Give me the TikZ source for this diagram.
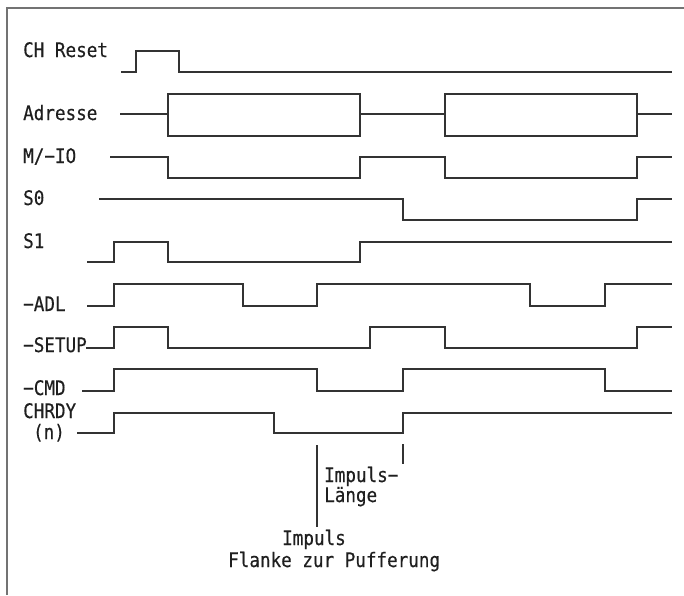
\documentclass[tikz,border=0pt]{standalone}
\usepackage{fontspec}
\newfontfamily\lgfont[FakeStretch=0.88,FakeBold=0.4]{DejaVu Sans Mono}
\begin{document}
\begin{tikzpicture}[x=1pt,y=-1pt,
  sig/.style={line width=1.4pt, draw=black!80, line join=miter},
  lbl/.style={anchor=base west, inner sep=0pt, font=\lgfont\fontsize{20pt}{21pt}\selectfont, text=black!88},
  frame/.style={line width=1.5pt, draw=black!55}]
\useasboundingbox (0,0) rectangle (684,595);
\draw[frame] (7,595) -- (7,8) -- (684,8);
% labels
\node[lbl] (lreset) at (23,57) {CH Reset};
\node[lbl] (ladr) at (23,120) {Adresse};
\node[lbl] (lmio) at (23,163) {M/−IO};
\node[lbl] (ls0) at (23,205) {S0};
\node[lbl] (ls1) at (23,248) {S1};
\node[lbl] (ladl) at (23,311) {−ADL};
\node[lbl] (lsetup) at (23,352) {−SETUP};
\node[lbl] (lcmd) at (23,395) {−CMD};
\node[lbl] (lchrdy) at (23,418) {CHRDY};
\node[lbl, anchor=base] (ln) at (49,439) {(n)};
% waveforms
\draw[sig] (121,72) -- (136,72) -- (136,51) -- (179,51) -- (179,72) -- (672,72);
\draw[sig] (120,114) -- (168,114);
\draw[sig] (168,94) rectangle (360,136);
\draw[sig] (360,114) -- (445,114);
\draw[sig] (445,94) rectangle (637,136);
\draw[sig] (637,114) -- (672,114);
\draw[sig] (110,157) -- (168,157) -- (168,178) -- (360,178) -- (360,157) -- (445,157) -- (445,178) -- (637,178) -- (637,157) -- (672,157);
\draw[sig] (99,199) -- (403,199) -- (403,220) -- (637,220) -- (637,199) -- (672,199);
\draw[sig] (87,262) -- (114,262) -- (114,242) -- (168,242) -- (168,262) -- (360,262) -- (360,242) -- (672,242);
\draw[sig] (87,306) -- (114,306) -- (114,284) -- (243,284) -- (243,306) -- (317,306) -- (317,284) -- (530,284) -- (530,306) -- (605,306) -- (605,284) -- (672,284);
\draw[sig] (86,348) -- (114,348) -- (114,327) -- (168,327) -- (168,348) -- (370,348) -- (370,327) -- (445,327) -- (445,348) -- (637,348) -- (637,327) -- (672,327);
\draw[sig] (82,391) -- (114,391) -- (114,369) -- (317,369) -- (317,391) -- (403,391) -- (403,369) -- (605,369) -- (605,391) -- (672,391);
\draw[sig] (77,433) -- (114,433) -- (114,413) -- (274,413) -- (274,433) -- (403,433) -- (403,413) -- (672,413);
% markers
\coordinate (m1a) at (317,445);
\coordinate (m1b) at (317,527);
\coordinate (m2a) at (403,444);
\coordinate (m2b) at (403,464);
\draw[sig, line width=1.2pt] (m1a) -- (m1b);
\draw[sig, line width=1.2pt] (m2a) -- (m2b);
% annotations
\node[lbl] (tlen1) at (324,482) {Impuls−};
\node[lbl] (tlen2) at (324,502) {Länge};
\node[lbl] (timp) at (282,545) {Impuls};
\node[lbl] (tflank) at (228,567) {Flanke zur Pufferung};
\end{tikzpicture}
\end{document}
